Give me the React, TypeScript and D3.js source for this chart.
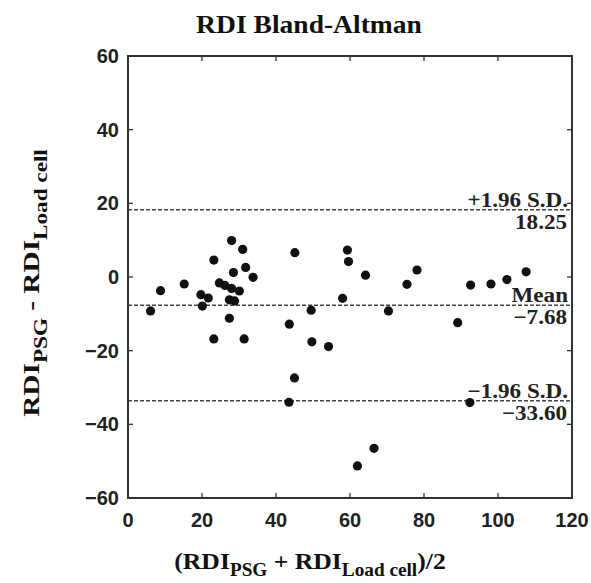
import { useEffect, useRef } from 'react';
import * as d3 from 'd3';

// (RDI_PSG + RDI_Load cell) / 2
const avgRdi = [
  6.1, 8.8, 15.2, 19.7, 21.7, 20.1, 23.2, 23.2, 24.7, 26.2, 28.0, 30.1, 28.0, 31.0,
  28.5, 31.8, 33.8, 27.4, 28.8, 27.4, 31.4, 45.1, 43.6, 45.0, 43.5, 49.5, 49.7, 54.2,
  58.0, 59.3, 59.6, 64.2, 62.0, 66.5, 70.4, 75.4, 78.1, 89.1, 92.6, 92.4, 98.1, 102.4, 107.6,
];
// RDI_PSG - RDI_Load cell
const diffRdi = [
  -9.2, -3.7, -1.9, -4.8, -5.7, -7.9, 4.6, -16.8, -1.6, -2.3, -3.1, -3.8, 9.9, 7.5,
  1.2, 2.6, -0.1, -6.2, -6.5, -11.2, -16.8, 6.6, -12.8, -27.4, -34.0, -9.0, -17.6, -18.9,
  -5.8, 7.3, 4.2, 0.5, -51.3, -46.5, -9.2, -2.0, 1.9, -12.4, -2.2, -34.1, -1.9, -0.7, 1.4,
];

const xTicks = [0, 20, 40, 60, 80, 100, 120];
const yTicks = [-60, -40, -20, 0, 20, 40, 60];

const limitValues = [18.25, -7.68, -33.6];
const limitNames = ['+1.96 S.D.', 'Mean', '\u22121.96 S.D.'];
const limitLabels = ['18.25', '\u22127.68', '\u221233.60'];

export default function App() {
  const svgRef = useRef(null);

  useEffect(() => {
    if (!svgRef.current) return;
    const svg = d3.select(svgRef.current);
    svg.selectAll('*').remove();

    const left = 128, right = 572, top = 56, bottom = 498;
    const serif = '"Liberation Serif", "Times New Roman", serif';
    const sans = '"Liberation Sans", Arial, sans-serif';

    const x = d3.scaleLinear().domain([0, 120]).range([left, right]);
    const y = d3.scaleLinear().domain([-60, 60]).range([bottom, top]);

    // title
    svg.append('text')
      .attr('transform', 'translate(309,33) scale(1.06,1)')
      .attr('text-anchor', 'middle')
      .attr('font-family', serif).attr('font-weight', 'bold').attr('font-size', 26)
      .attr('fill', '#111')
      .text('RDI Bland-Altman');

    // limit lines
    svg.selectAll('line.limit')
      .data(limitValues)
      .join('line')
      .attr('class', 'limit')
      .attr('x1', left).attr('x2', right)
      .attr('y1', d => y(d)).attr('y2', d => y(d))
      .attr('stroke', '#444').attr('stroke-width', 1.6)
      .attr('stroke-dasharray', '4,2');

    // points
    svg.selectAll('circle')
      .data(avgRdi.map((v, i) => [v, diffRdi[i]]))
      .join('circle')
      .attr('cx', d => x(d[0]))
      .attr('cy', d => y(d[1]))
      .attr('r', 4.6)
      .attr('fill', '#111');

    // frame
    svg.append('rect')
      .attr('x', left).attr('y', top)
      .attr('width', right - left).attr('height', bottom - top)
      .attr('fill', 'none').attr('stroke', '#333').attr('stroke-width', 2);

    // inward ticks on all sides
    const tk = 5;
    svg.selectAll('line.xt')
      .data(xTicks.flatMap(t => [[t, bottom, -tk], [t, top, tk]]))
      .join('line').attr('class', 'xt')
      .attr('x1', d => x(d[0])).attr('x2', d => x(d[0]))
      .attr('y1', d => d[1]).attr('y2', d => d[1] + d[2])
      .attr('stroke', '#333').attr('stroke-width', 1.3);
    svg.selectAll('line.yt')
      .data(yTicks.flatMap(t => [[t, left, tk], [t, right, -tk]]))
      .join('line').attr('class', 'yt')
      .attr('y1', d => y(d[0])).attr('y2', d => y(d[0]))
      .attr('x1', d => d[1]).attr('x2', d => d[1] + d[2])
      .attr('stroke', '#333').attr('stroke-width', 1.3);

    // tick labels
    svg.selectAll('text.xl')
      .data(xTicks)
      .join('text').attr('class', 'xl')
      .attr('x', d => x(d)).attr('y', 527)
      .attr('text-anchor', 'middle')
      .attr('font-family', sans).attr('font-weight', 'bold').attr('font-size', 20)
      .attr('fill', '#222')
      .text(d => String(d));
    svg.selectAll('text.yl')
      .data(yTicks)
      .join('text').attr('class', 'yl')
      .attr('x', 119).attr('y', d => y(d) + 7)
      .attr('text-anchor', 'end')
      .attr('font-family', sans).attr('font-weight', 'bold').attr('font-size', 20)
      .attr('fill', '#222')
      .text(d => (d < 0 ? '\u2212' + Math.abs(d) : String(d)));

    // limit annotations
    svg.selectAll('text.ln')
      .data(limitValues)
      .join('text').attr('class', 'ln')
      .attr('transform', d => `translate(568,${y(d) - 3}) scale(1.1,1)`)
      .attr('text-anchor', 'end')
      .attr('font-family', serif).attr('font-weight', 'bold').attr('font-size', 21)
      .attr('fill', '#222')
      .text((d, i) => limitNames[i]);
    svg.selectAll('text.lv')
      .data(limitValues)
      .join('text').attr('class', 'lv')
      .attr('transform', d => `translate(567,${y(d) + 19}) scale(1.1,1)`)
      .attr('text-anchor', 'end')
      .attr('font-family', serif).attr('font-weight', 'bold').attr('font-size', 21)
      .attr('fill', '#222')
      .text((d, i) => limitLabels[i]);

    // x axis label
    const xl = svg.append('text')
      .attr('transform', 'translate(310,569) scale(1.07,1)')
      .attr('text-anchor', 'middle')
      .attr('font-family', serif).attr('font-weight', 'bold').attr('font-size', 24)
      .attr('fill', '#111');
    xl.append('tspan').text('(RDI');
    xl.append('tspan').attr('font-size', 18).attr('dy', 7).text('PSG');
    xl.append('tspan').attr('dy', -7).text(' + RDI');
    xl.append('tspan').attr('font-size', 18).attr('dy', 7).text('Load cell');
    xl.append('tspan').attr('dy', -7).text(')/2');

    // y axis label
    const yl = svg.append('text')
      .attr('transform', 'translate(39,283) rotate(-90) scale(1.22,1)')
      .attr('text-anchor', 'middle')
      .attr('font-family', serif).attr('font-weight', 'bold').attr('font-size', 24)
      .attr('fill', '#111');
    yl.append('tspan').text('RDI');
    yl.append('tspan').attr('font-size', 19).attr('dy', 8).text('PSG');
    yl.append('tspan').attr('dy', -8).text(' - RDI');
    yl.append('tspan').attr('font-size', 19).attr('dy', 8).text('Load cell');
  }, []);

  return (
    <svg
      ref={svgRef}
      width={591}
      height={583}
      style={{ position: 'absolute', left: 0, top: 0, background: '#fff' }}
    />
  );
}
